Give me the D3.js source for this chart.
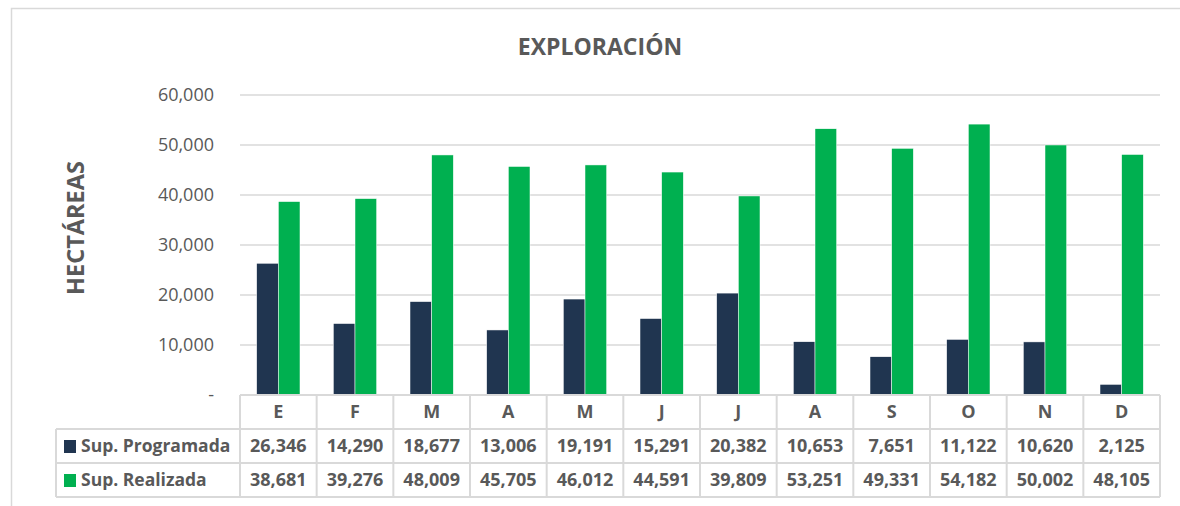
<!DOCTYPE html>
<html>
<head>
<meta charset="utf-8">
<script src="https://cdn.jsdelivr.net/npm/d3@7"></script>
<style>
  body { margin: 0; background: #fff; }
  text { font-family: "Open Sans", "Noto Sans", sans-serif; fill: #595959; }
</style>
</head>
<body>
<div id="chart"></div>
<script>
// Data
const months = ["E", "F", "M", "A", "M", "J", "J", "A", "S", "O", "N", "D"];
const seriesNames = ["Sup. Programada", "Sup. Realizada"];
const programada = [26346, 14290, 18677, 13006, 19191, 15291, 20382, 10653, 7651, 11122, 10620, 2125];
const realizada = [38681, 39276, 48009, 45705, 46012, 44591, 39809, 53251, 49331, 54182, 50002, 48105];
const yTicks = [0, 10000, 20000, 30000, 40000, 50000, 60000];
const colors = ["#203550", "#00b050"];

const width = 1180;
const height = 506;
const plot = {left: 240, right: 1160, top: 95, bottom: 395};
const rowH = 34;

const svg = d3.select("#chart")
    .append("svg")
    .attr("width", width)
    .attr("height", height);

// chart frame
svg.append("rect")
    .attr("x", 11.5)
    .attr("y", 8.5)
    .attr("width", 1300)
    .attr("height", 600)
    .attr("fill", "none")
    .attr("stroke", "#d9d9d9")
    .attr("stroke-width", 1.5);

// Scales
const x0 = d3.scaleBand()
    .domain(d3.range(months.length))
    .range([plot.left, plot.right])
    .padding(0);

const x1 = d3.scaleBand()
    .domain(d3.range(seriesNames.length))
    .range([0, x0.bandwidth()])
    .paddingInner(0)
    .paddingOuter(0.77);

const y = d3.scaleLinear()
    .domain([0, 60000])
    .range([plot.bottom, plot.top]);

// Title
svg.append("text")
    .attr("x", 600)
    .attr("y", 55)
    .attr("text-anchor", "middle")
    .style("font-size", "23px")
    .style("font-weight", "bold")
    .text("EXPLORACIÓN");

// Y axis title
svg.append("text")
    .attr("transform", "translate(84,228) rotate(-90)")
    .attr("text-anchor", "middle")
    .style("font-size", "23.5px")
    .style("font-weight", "bold")
    .text("HECTÁREAS");

// Gridlines
svg.append("g")
    .selectAll("line")
    .data(yTicks.filter(d => d > 0))
    .enter()
    .append("line")
    .attr("x1", plot.left)
    .attr("x2", plot.right)
    .attr("y1", d => y(d))
    .attr("y2", d => y(d))
    .attr("stroke", "#d9d9d9")
    .attr("stroke-width", 1.5);

// Y axis labels
const yAxis = svg.append("g")
    .attr("transform", `translate(${plot.left - 26},0)`)
    .call(d3.axisLeft(y)
        .tickValues(yTicks)
        .tickSize(0)
        .tickPadding(0)
        .tickFormat(d => d === 0 ? "-" : d3.format(",")(d)));
yAxis.select(".domain").remove();
yAxis.selectAll("text")
    .style("font-size", "18px")
    .style("fill", "#595959")
    .style("font-family", '"Open Sans", sans-serif');

// Bars
const allSeries = [programada, realizada];
const groups = svg.append("g")
    .selectAll("g")
    .data(months.map((m, i) => ({i, values: allSeries.map(s => s[i])})))
    .enter()
    .append("g")
    .attr("transform", d => `translate(${x0(d.i)},0)`);

groups.selectAll("rect")
    .data(d => d.values.map((v, k) => ({k, v})))
    .enter()
    .append("rect")
    .attr("x", d => x1(d.k))
    .attr("y", d => y(d.v))
    .attr("width", x1.bandwidth())
    .attr("height", d => plot.bottom - y(d.v))
    .attr("fill", d => colors[d.k])
    .attr("stroke", "#fff")
    .attr("stroke-width", 0.5);

// Data table
const table = svg.append("g");
const tableLeft = 56;
const rowsTop = plot.bottom + rowH;
const tableBottom = plot.bottom + rowH * 3;
const lineStyle = sel => sel.attr("stroke", "#d9d9d9").attr("stroke-width", 2).attr("fill", "none");

// horizontal lines
table.append("line").attr("x1", plot.left).attr("x2", plot.right)
    .attr("y1", plot.bottom).attr("y2", plot.bottom).call(lineStyle);
[rowsTop, rowsTop + rowH, tableBottom].forEach(yy => {
    table.append("line").attr("x1", tableLeft).attr("x2", plot.right)
        .attr("y1", yy).attr("y2", yy).call(lineStyle);
});
// vertical lines
table.append("line").attr("x1", tableLeft).attr("x2", tableLeft)
    .attr("y1", rowsTop).attr("y2", tableBottom).call(lineStyle);
d3.range(months.length + 1).forEach(i => {
    const xx = i < months.length ? x0(i) : plot.right;
    table.append("line").attr("x1", xx).attr("x2", xx)
        .attr("y1", plot.bottom).attr("y2", tableBottom).call(lineStyle);
});

// header labels
table.selectAll(".month")
    .data(months)
    .enter()
    .append("text")
    .attr("class", "month")
    .attr("x", (d, i) => x0(i) + x0.bandwidth() / 2)
    .attr("y", plot.bottom + rowH / 2)
    .attr("dy", "0.35em")
    .attr("text-anchor", "middle")
    .style("font-size", "18px")
    .style("font-weight", "bold")
    .text(d => d);

// rows
allSeries.forEach((s, k) => {
    const rowY = rowsTop + k * rowH;
    table.append("rect")
        .attr("x", 64)
        .attr("y", rowY + rowH / 2 - 6)
        .attr("width", 12)
        .attr("height", 13)
        .attr("fill", colors[k]);
    table.append("text")
        .attr("x", 81)
        .attr("y", rowY + rowH / 2)
        .attr("dy", "0.35em")
        .style("font-size", "17.5px")
        .style("font-weight", "bold")
        .text(seriesNames[k]);
    table.selectAll(".val" + k)
        .data(s)
        .enter()
        .append("text")
        .attr("x", (d, i) => x0(i) + x0.bandwidth() / 2)
        .attr("y", rowY + rowH / 2)
        .attr("dy", "0.35em")
        .attr("text-anchor", "middle")
        .style("font-size", "18px")
        .style("font-weight", "bold")
        .text(d => d3.format(",")(d));
});
</script>
</body>
</html>
